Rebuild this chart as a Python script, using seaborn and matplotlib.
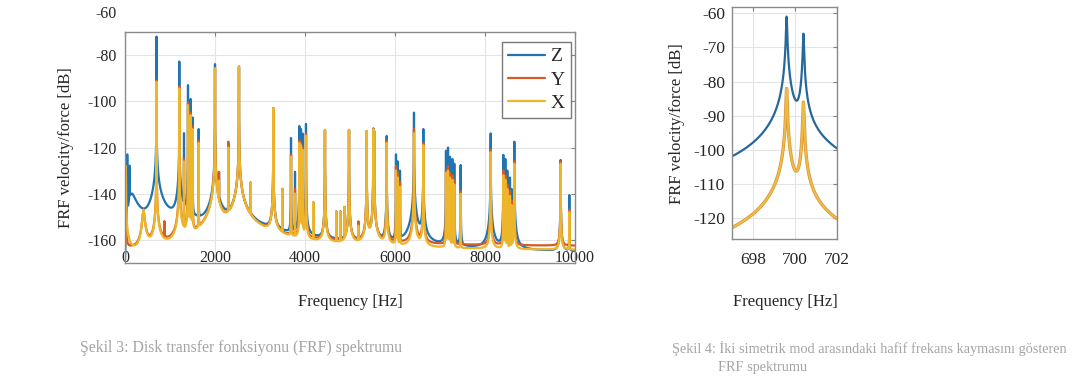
import numpy as np
import pandas as pd
import matplotlib
matplotlib.use("Agg")
import matplotlib.pyplot as plt
import seaborn as sns

# ---- left chart: mode list (Hz, peak dB per direction)
mode_hz = [20, 50, 100, 150, 410, 700, 875, 1207, 1311, 1400, 1459, 1504, 1637,
           2000, 2089, 2296, 2533, 2793, 3296, 3496, 3689, 3778, 3874, 3911,
           3948, 4022, 4185, 4444, 4696, 4785, 4881, 4978, 5185, 5370, 5518,
           5540, 5815, 6022, 6059, 6111, 6422, 6630, 7133, 7178, 7222, 7274,
           7318, 7459, 8126, 8407, 8452, 8496, 8555, 8592, 8652, 9681, 9874]
peak_z = [-170, -123, -128, -140, -175, -72, -190, -82.8, -113.8, -93, -99, -107, -112,
          -83.9, -131, -118, -85, -135.4, -103, -138, -115.9, -130.5, -110.7, -112,
          -114, -109.8, -144, -112.4, -148, -148, -146, -112.4, -153, -113, -111.7,
          -113, -115, -123, -126, -130, -104.9, -112, -121.4, -120, -124, -125,
          -127, -127.6, -113.9, -123.2, -125, -130, -133, -138, -117.5, -125.4, -140.6]
peak_y = [-138, -175, -175, -190, -147, -91, -153, -93.5, -125, -100.5, -105, -111, -117,
          -85.5, -131, -117.5, -85, -135.4, -103, -138, -123, -138, -117, -118,
          -120, -114, -144, -112.4, -148, -148, -146, -112.4, -153, -113, -112,
          -113, -117, -128, -131, -135, -112, -118, -130, -128, -131, -132,
          -134, -139, -121, -130, -132, -136, -139, -143, -126, -126, -147]
peak_x = [-128, -175, -175, -190, -147, -91.5, -190, -94.4, -126, -101.6, -106, -112, -118,
          -85.7, -135, -120, -85, -135.4, -103, -138, -124, -140, -118, -119,
          -121, -115, -144, -112.4, -148, -148, -146, -112.4, -155, -113, -112,
          -113, -118, -130, -133, -137, -113.8, -119, -131, -130, -133, -134,
          -136, -140, -122, -132, -134, -138, -141, -145, -127, -127, -148]
damping = [0.05, 0.01, 0.01, 0.5, 0.05] + [6e-5] * (len(mode_hz) - 5)
floor_db = {"Z": -168, "Y": -163, "X": -165}

# ---- right chart: the split pair near 700 Hz
pair_hz = [699.6, 700.4]
pair_z = [-61, -66]
pair_y = [-82, -86]
pair_x = [-82, -86]
pair_damping = 3.1e-5

colors = {"Z": "#1f74b1", "Y": "#d65a28", "X": "#edb529"}


def frf_db(f, modes, peaks, zetas, floor=None):
    f = np.asarray(f, dtype=float)
    total = np.zeros_like(f)
    for fk, p, z in zip(modes, peaks, zetas):
        r = f / fk
        h = 10 ** (p / 20) * 2 * z * r / np.sqrt((1 - r ** 2) ** 2 + (2 * z * r) ** 2)
        total += h ** 2
    if floor is not None:
        total += (10 ** (floor / 20)) ** 2
    return 10 * np.log10(total)


freq = np.union1d(np.linspace(1, 10000, 40000), mode_hz)
left = pd.DataFrame({"Frequency": freq})
for name, peaks in [("Z", peak_z), ("Y", peak_y), ("X", peak_x)]:
    left[name] = frf_db(freq, mode_hz, peaks, damping, floor_db[name])

freq_r = np.union1d(np.linspace(697, 702, 4000), pair_hz)
right = pd.DataFrame({"Frequency": freq_r})
for name, peaks in [("Z", pair_z), ("Y", pair_y), ("X", pair_x)]:
    right[name] = frf_db(freq_r, pair_hz, peaks, [pair_damping] * 2)

sns.set_style("whitegrid")
plt.rcParams["font.family"] = ["Liberation Serif", "DejaVu Serif"]
plt.rcParams["axes.unicode_minus"] = False

fig = plt.figure(figsize=(10.84, 3.82), dpi=100)
W, H = 1084, 382
ax1 = fig.add_axes([125 / W, 1 - 263 / H, 450 / W, 231 / H])
ax2 = fig.add_axes([732 / W, 1 - 239 / H, 105 / W, 232 / H])

for name in ["Z", "Y", "X"]:
    sns.lineplot(data=left, x="Frequency", y=name, ax=ax1, color=colors[name],
                 lw=1.6, label=name, estimator=None)

sns.lineplot(data=right, x="Frequency", y="Z", ax=ax2, color="#27689a", lw=1.6)
sns.lineplot(data=right, x="Frequency", y="Y", ax=ax2, color="#d9963a", lw=2.4)
sns.lineplot(data=right, x="Frequency", y="X", ax=ax2, color="#eebb45", lw=1.4)

ax1.set_xlim(0, 10000)
ax1.set_ylim(-170, -70)
ax1.set_xticks([0, 2000, 4000, 6000, 8000, 10000])
ax1.set_yticks([-160, -140, -120, -100, -80])
ax1.text(-0.018, -62, "-60", transform=ax1.get_yaxis_transform(),
         ha="right", va="center", fontsize=11.5)
ax1.tick_params(axis="x", direction="in", pad=-9, labelsize=11.5)
ax1.tick_params(axis="y", direction="in", pad=6, labelsize=11.5)

ax2.set_xlim(697, 702)
ax2.set_ylim(-126, -58.2)
ax2.set_xticks([698, 700, 702])
ax2.set_yticks([-120, -110, -100, -90, -80, -70, -60])
ax2.tick_params(axis="both", direction="in", labelsize=12.5)
ax2.tick_params(axis="y", pad=5)
ax2.tick_params(axis="x", pad=9)

for ax in (ax1, ax2):
    ax.set_xlabel("")
    ax.set_ylabel("")
    ax.grid(True, color="#e4e4e4", lw=0.8)
    ax.tick_params(top=True, right=True, length=3, color="#808080")
    for s in ax.spines.values():
        s.set_visible(True)
        s.set_color("#8a8a8a")
        s.set_linewidth(1.0)

leg = ax1.legend(loc="upper right", bbox_to_anchor=(0.99, 0.957), fontsize=14,
                 handlelength=1.9, handletextpad=0.3, borderpad=0.3,
                 labelspacing=0.3, borderaxespad=0, fancybox=False, framealpha=1)
leg.get_frame().set_edgecolor("#7a7a7a")
for line in leg.get_lines():
    line.set_linewidth(1.6)

fig.text(350 / W, 1 - 302 / H, "Frequency [Hz]", ha="center", va="center", fontsize=12)
fig.text(785 / W, 1 - 302 / H, "Frequency [Hz]", ha="center", va="center", fontsize=12)
fig.text(66 / W, 1 - 148 / H, "FRF velocity/force [dB]", rotation=90,
         ha="center", va="center", fontsize=12)
fig.text(677 / W, 1 - 124 / H, "FRF velocity/force [dB]", rotation=90,
         ha="center", va="center", fontsize=12)

cap = "#a4a4a4"
fig.text(80 / W, 1 - 348 / H, "Şekil 3: Disk transfer fonksiyonu (FRF) spektrumu",
         ha="left", va="center", fontsize=11.3, color=cap)
fig.text(672 / W, 1 - 348 / H,
         "Şekil 4: İki simetrik mod arasındaki hafif frekans kaymasını gösteren",
         ha="left", va="center", fontsize=10.3, color=cap)
fig.text(718 / W, 1 - 367 / H, "FRF spektrumu", ha="left", va="center",
         fontsize=10.3, color=cap)

fig.savefig("out.png", dpi=100, facecolor="white")
